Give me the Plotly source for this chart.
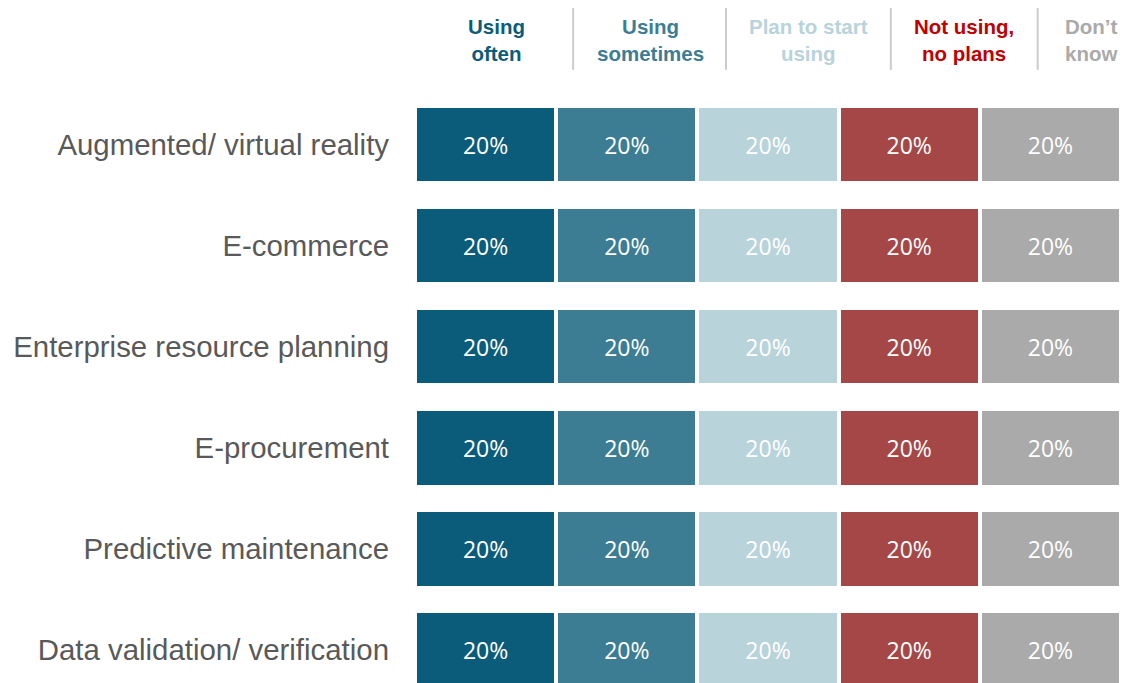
import plotly.graph_objects as go

categories = ['Augmented/ virtual reality', 'E-commerce', 'Enterprise resource planning',
              'E-procurement', 'Predictive maintenance', 'Data validation/ verification']
statuses = ['Using<br>often', 'Using<br>sometimes', 'Plan to start<br>using', 'Not using,<br>no plans', 'Don\u2019t<br>know']
using_often = [20, 20, 20, 20, 20, 20]
using_sometimes = [20, 20, 20, 20, 20, 20]
plan_to_start = [20, 20, 20, 20, 20, 20]
not_using = [20, 20, 20, 20, 20, 20]
dont_know = [20, 20, 20, 20, 20, 20]

series = [using_often, using_sometimes, plan_to_start, not_using, dont_know]
bar_colors = ['#0b5c7a', '#3d7d94', '#b8d3da', '#a64747', '#aaaaaa']
head_colors = ['#0b5c7a', '#3d7d94', '#b8d3da', '#c00000', '#aaaaaa']

fig = go.Figure()
for name, vals, col in zip(statuses, series, bar_colors):
    fig.add_trace(go.Bar(
        y=categories, x=vals, orientation='h', name=name,
        marker=dict(color=col, line=dict(color='white', width=4)),
        width=0.77,
        text=[f'{v}%' for v in vals], textposition='inside', insidetextanchor='middle',
        textfont=dict(family='Open Sans', size=23, color='white'),
        hoverinfo='skip',
    ))

# header labels and separators
head_x = [11.6, 33.3, 55.8, 77.8, 95.8]
sep_x = [22.4, 44.05, 67.4, 88.2]
for hx, txt, col in zip(head_x, statuses, head_colors):
    fig.add_annotation(x=hx, y=1.092, xref='x', yref='paper', yanchor='middle', text=f'<b>{txt}</b>',
                       showarrow=False, font=dict(family='Liberation Sans', size=20.5, color=col))
for sx in sep_x:
    fig.add_shape(type='line', x0=sx, x1=sx, y0=1.041, y1=1.146, xref='x', yref='paper',
                  line=dict(color='#cccccc', width=2))

fig.update_layout(
    barmode='stack', width=1119, height=675,
    margin=dict(l=407, r=6, t=86, b=0),
    plot_bgcolor='white', paper_bgcolor='white', showlegend=False,
)
fig.update_xaxes(range=[0, 100], visible=False)
fig.update_yaxes(range=[5.33, -0.5], showgrid=False, zeroline=False, showline=False,
                 ticks='', ticklabelstandoff=25,
                 tickfont=dict(family='Liberation Sans', size=29.4, color='#595959'))
fig.write_html('out.html')
